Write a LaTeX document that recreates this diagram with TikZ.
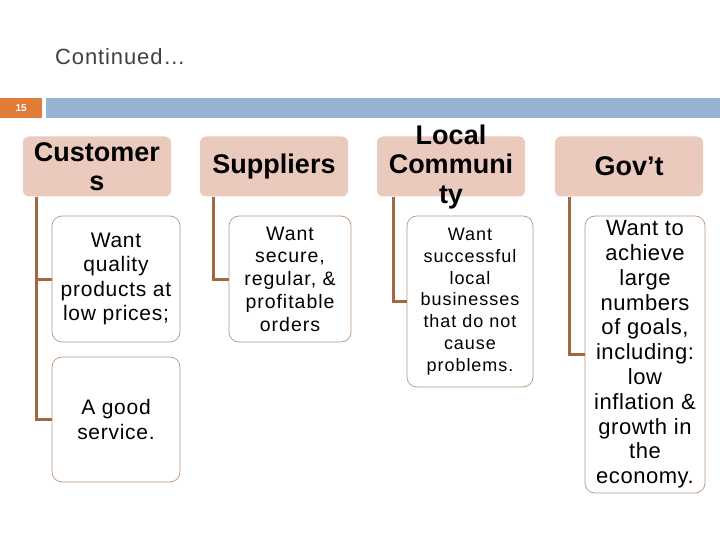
\documentclass[tikz,border=0pt]{standalone}
\usepackage{fontspec}
\setmainfont{Liberation Sans}
\definecolor{hdrpink}{HTML}{EBCABE}
\definecolor{boxline}{HTML}{B8967A}
\definecolor{conn}{HTML}{A2683F}
\definecolor{orangebar}{HTML}{E07B39}
\definecolor{bluebar}{HTML}{94B4D1}
\definecolor{titlegray}{HTML}{404040}
\tikzset{
  hdrbox/.style={draw=none, fill=hdrpink, rounded corners=6pt, inner sep=0pt, minimum width=148pt, minimum height=60pt},
  hdrtext/.style={align=center, inner sep=0pt, font=\fontsize{27}{29.5}\selectfont\bfseries},
  childbox/.style={draw=boxline, line width=0.7pt, fill=white, rounded corners=10pt, inner sep=0pt, align=center},
  connector/.style={draw=conn, line width=3pt},
}
\begin{document}
\begin{tikzpicture}[x=1pt,y=-1pt]
\path[use as bounding box, fill=white] (0,0) rectangle (720,540);

\node[text=titlegray, font=\fontsize{22}{24}\selectfont\addfontfeatures{LetterSpace=4}, anchor=west, inner sep=0pt] (title) at (55,57) {Continued…};

\node[fill=orangebar, minimum width=42pt, minimum height=20pt, inner sep=0pt, anchor=north west, text=white, font=\fontsize{10}{12}\selectfont\bfseries] (num) at (0,98) {15};
\node[fill=bluebar, minimum width=674pt, minimum height=20pt, inner sep=0pt, anchor=north west] (bar) at (46,98) {};

% headers
\node[hdrbox] (cust) at (97,166.5) {};
\node[hdrbox] (supp) at (274,166.5) {};
\node[hdrbox] (loc) at (451,166.5) {};
\node[hdrbox] (gov) at (629,166.5) {};

% children
\node[childbox, minimum width=128pt, minimum height=126pt, font=\fontsize{21}{24.5}\selectfont\addfontfeatures{LetterSpace=3.5}] (c1) at (116,279) {Want\\quality\\products at\\low prices;};
\node[childbox, minimum width=128pt, minimum height=125pt, font=\fontsize{21}{24.5}\selectfont\addfontfeatures{LetterSpace=3.5}] (c2) at (116,419.5) {A good\\service.};
\node[childbox, minimum width=122pt, minimum height=126pt, font=\fontsize{19.5}{22.7}\selectfont\addfontfeatures{LetterSpace=5}] (s1) at (290,279) {Want\\secure,\\regular, \&\\profitable\\orders};
\node[childbox, minimum width=126pt, minimum height=171pt, font=\fontsize{18}{21.8}\selectfont\addfontfeatures{LetterSpace=5.5}] (l1) at (470,301.5) {Want\\successful\\local\\businesses\\that do not\\cause\\problems.};
\node[childbox, minimum width=120pt, minimum height=277pt, font=\fontsize{22}{24.8}\selectfont\addfontfeatures{LetterSpace=2.5}] (g1) at (645,354.5) {Want to\\achieve\\large\\numbers\\of goals,\\including:\\low\\inflation \&\\growth in\\the\\economy.};

% connectors
\draw[connector] ([xshift=14pt]cust.south west) |- (c1.west);
\draw[connector] ([xshift=14pt]cust.south west) |- (c2.west);
\draw[connector] ([xshift=14pt]supp.south west) |- (s1.west);
\draw[connector] ([xshift=17pt]loc.south west) |- (l1.west);
\draw[connector] ([xshift=15pt]gov.south west) |- (g1.west);

% header texts
\node[hdrtext] (custtext) at (cust.center) {Customer\\s};
\node[hdrtext] (supptext) at (supp.center) {Suppliers};
\node[hdrtext] (loctext) at (451,167) {Local\\Communi\\ty};
\node[hdrtext] (govtext) at (gov.center) {Gov’t};
\end{tikzpicture}
\end{document}
